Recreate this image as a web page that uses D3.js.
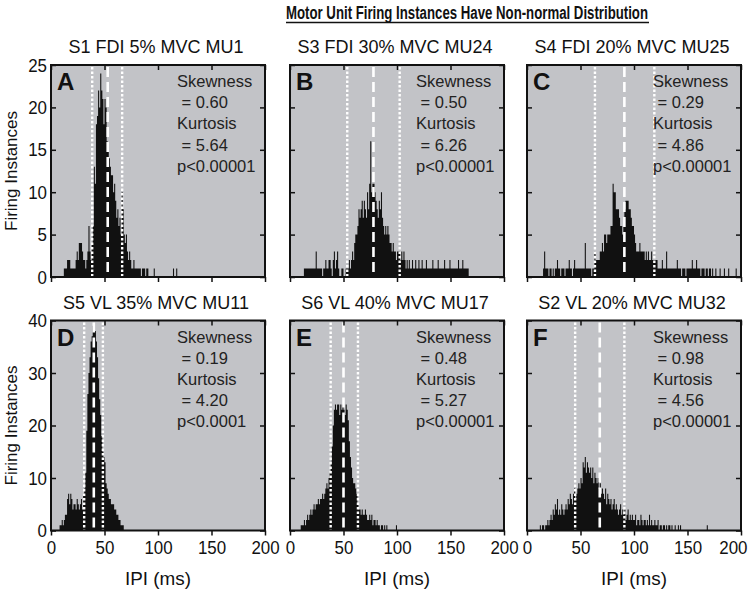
<!DOCTYPE html>
<html><head><meta charset="utf-8">
<script src="https://cdn.jsdelivr.net/npm/d3@7"></script>
<style>body{margin:0;background:#fff}svg{display:block}</style>
</head><body>
<svg id="chart" width="748" height="591"></svg>
<script>
// ---------------- data ----------------
const mainTitle = "Motor Unit Firing Instances Have Non-normal Distribution";
const panelTitles = ["S1 FDI 5% MVC MU1","S3 FDI 30% MVC MU24","S4 FDI 20% MVC MU25",
                     "S5 VL 35% MVC MU11","S6 VL 40% MVC MU17","S2 VL 20% MVC MU32"];
const panelLetters = ["A","B","C","D","E","F"];
const skewness = ["0.60","0.50","0.29","0.19","0.48","0.98"];
const kurtosis = ["5.64","6.26","4.86","4.20","5.27","4.56"];
const pValues = ["p<0.00001","p<0.00001","p<0.00001","p<0.0001","p<0.00001","p<0.00001"];
const xTicks = [0,50,100,150,200];
const yTicksTop = [0,5,10,15,20,25];
const yTicksBottom = [0,10,20,30,40];
const xLabel = "IPI (ms)";
const yLabel = "Firing Instances";
// white dashed (centre) and dotted (spread) reference lines, ms
const centerLine = [53,78,91,40,50,68];
const lowerLine  = [38.5,53.5,63.5,31,38,45];
const upperLine  = [66.5,102.5,119,48.5,63.5,91];
// histogram counts in 1-ms bins, starting at binStart ms
const binStart = [12,13,15,8,10,12];
const countsA = [1,1,1,2,2,2,1,1,1,1,1,2,3,2,4,4,4,3,2,2,1,2,3,6,3,2,4,6,13,11,18,19,22,20,24,22,21,18,21,20,16,15,14,13,12,12,10,11,9,7,8,6,7,5,10,8,5,4,5,3,2,3,2,1,1,2,1,1,1,1,1,1,0,1,1,1,0,1,1,0,0,0,0,0,1,0,0,0,0,0,0,0,0,0,0,0,0,0,0,0,0,0,1,0,0,1];
const countsB = [1,1,1,1,1,1,1,1,1,1,1,3,1,1,1,1,1,0,1,1,2,1,1,2,2,1,0,2,3,1,2,3,1,0,0,1,1,0,0,1,1,1,2,1,2,3,2,4,5,5,6,8,7,8,9,7,9,8,7,10,8,11,16,10,11,11,10,9,8,7,9,8,10,7,6,5,6,5,6,5,4,4,3,4,3,3,2,3,3,3,2,3,2,3,2,1,2,1,2,1,1,2,1,1,2,1,1,2,1,1,2,1,1,1,2,1,1,1,1,1,2,1,1,1,1,2,1,1,1,1,1,2,1,1,1,1,2,1,1,1,1,1,1,1,2,1,1,1,2,1,1,1,1,1];
const countsC = [1,3,1,1,1,0,1,1,0,1,0,1,1,2,1,1,0,1,1,1,0,1,1,1,2,1,1,0,1,2,1,1,1,1,1,1,1,1,1,4,1,1,1,1,1,0,1,1,3,2,2,2,2,3,3,4,3,5,5,4,5,5,5,6,6,11,10,10,8,8,8,7,6,6,5,6,8,9,9,9,8,8,7,6,6,5,4,3,3,3,4,3,3,3,3,2,3,2,3,2,2,3,2,2,2,2,2,1,1,1,1,2,1,1,1,3,1,1,1,1,1,1,1,1,1,2,1,1,1,0,1,1,1,0,1,1,1,1,1,2,1,1,1,2,1,1,1,0,1,1,1,0,1,1,0,1,1,0,1,0,0,1,0,0,0,1,0,0,0,1,0,0,0,1,0,0,0,0,0,0,1];
const countsD = [1,1,2,1,2,3,3,6,7,5,7,6,4,5,5,4,6,5,4,5,6,4,7,8,11,19,26,30,33,36,37,39,39,38,36,33,29,25,22,18,15,14,13,9,8,7,6,6,5,5,5,4,4,3,3,2,2,1,1,1];
const countsE = [1,1,1,2,1,2,3,2,3,4,3,4,5,4,5,5,6,5,6,6,7,6,7,8,9,8,10,11,13,16,20,23,24,23,24,24,22,24,23,24,23,22,24,23,21,17,14,12,10,9,9,8,7,5,4,4,3,4,3,3,4,3,2,2,3,2,3,1,2,2,1,2,1,1,0,1,1,0,1,0,1,0,0,0,0,0,0,0,0,1];
const countsF = [1,0,1,1,0,1,1,2,1,2,3,2,4,3,5,4,6,3,4,3,5,4,3,4,5,4,6,5,7,6,5,7,8,6,7,8,9,8,10,9,13,12,14,11,13,12,11,12,10,12,9,11,10,9,10,8,9,7,8,7,6,8,5,7,6,5,6,4,5,6,4,5,4,3,4,5,3,4,3,4,2,3,4,2,3,2,3,2,2,3,1,2,2,1,3,2,1,2,2,1,2,1,3,1,2,1,1,2,1,1,2,0,1,1,0,1,1,0,1,0,1,1,0,1,0,0,1,0,0,1,0,1,0,0,0,0,0,0,0,0,0,0,0,0,0,0,0,0,0,0,0,0,0,0,0,0,1];
const allCounts = [countsA,countsB,countsC,countsD,countsE,countsF];

// ---------------- layout ----------------
const svg = d3.select("#chart");
const colX = [51,290,527], panelW = 214;
const rows = [{top:65,bottom:277,yMax:25,ticks:yTicksTop},{top:320.5,bottom:530.5,yMax:40,ticks:yTicksBottom}];
const bg = "#c2c3c7";
const ink = "#111";
const sans = "'Liberation Sans', Arial, Helvetica, sans-serif";

// main title
svg.append("text").attr("x",467).attr("y",19).attr("text-anchor","middle")
  .attr("font-family",sans).attr("font-weight","bold").attr("font-size",18).attr("fill",ink)
  .attr("textLength",362).attr("lengthAdjust","spacingAndGlyphs").text(mainTitle);
svg.append("line").attr("x1",286).attr("x2",649).attr("y1",22.5).attr("y2",22.5).attr("stroke",ink).attr("stroke-width",1.4);

function squeeze(sel, perChar){
  sel.each(function(){
    const t = d3.select(this), s = t.text();
    if (s.length) t.attr("textLength", s.length*perChar).attr("lengthAdjust","spacingAndGlyphs");
  });
}

for (let p=0;p<6;p++){
  const r = rows[Math.floor(p/3)], c = p%3;
  const x0 = colX[c], x1 = x0+panelW;
  const x = d3.scaleLinear().domain([0,200]).range([x0,x1]);
  const y = d3.scaleLinear().domain([0,r.yMax]).range([r.bottom,r.top]);
  const g = svg.append("g");
  g.append("rect").attr("x",x0).attr("y",r.top).attr("width",panelW).attr("height",r.bottom-r.top).attr("fill",bg);
  const counts = allCounts[p];
  const pts = counts.map((v,i)=>({b:binStart[p]+i,v:v}));
  pts.push({b:binStart[p]+counts.length, v:0});
  const area = d3.area().curve(d3.curveStepAfter).x(d=>x(d.b)).y0(y(0)).y1(d=>y(d.v));
  g.append("path").datum(pts).attr("d",area).attr("fill",ink).attr("stroke","none");
  // reference lines
  [[lowerLine[p],"2.5,2",2.4],[upperLine[p],"2.5,2",2.4],[centerLine[p],"10,5",2.6]].forEach(([v,da,w])=>{
    g.append("line").attr("x1",x(v)).attr("x2",x(v)).attr("y1",r.top+2).attr("y2",r.bottom)
      .attr("stroke","#fff").attr("stroke-width",w).attr("stroke-dasharray",da);
  });
  // axes
  const axB = g.append("g").attr("transform",`translate(0,${r.bottom})`)
    .call(d3.axisBottom(x).tickValues(xTicks).tickSize(5).tickSizeOuter(0).tickPadding(5).tickFormat(p>=3?d3.format("d"):()=>""));
  const axT = g.append("g").attr("transform",`translate(0,${r.top})`)
    .call(d3.axisBottom(x).tickValues(xTicks).tickSize(5).tickSizeOuter(0).tickFormat(()=>""));
  const axL = g.append("g").attr("transform",`translate(${x0},0)`)
    .call(d3.axisRight(y).tickValues(r.ticks).tickSize(5).tickSizeOuter(0).tickFormat(()=>""));
  const axR = g.append("g").attr("transform",`translate(${x1},0)`)
    .call(d3.axisLeft(y).tickValues(r.ticks).tickSize(5).tickSizeOuter(0).tickFormat(()=>""));
  let axLab = null;
  if (c===0){
    axLab = g.append("g").attr("transform",`translate(${x0},0)`)
      .call(d3.axisLeft(y).tickValues(r.ticks).tickSize(0).tickPadding(4).tickFormat(d3.format("d")));
    axLab.select(".domain").remove();
  }
  [axB,axT,axL,axR].forEach(a=>{a.select(".domain").remove(); a.selectAll(".tick line").attr("stroke",ink).attr("stroke-width",1.5);});
  [axB,axLab].forEach(a=>{ if(!a) return;
    a.selectAll(".tick text").attr("font-family",sans).attr("font-size",19).attr("fill",ink);
    squeeze(a.selectAll(".tick text"),9.4);
  });
  if (c===2 && p>=3){
    // keep the last label inside the picture, as in the reference
    axB.selectAll(".tick text").filter(d=>d===200).attr("text-anchor","end").attr("x",6);
  }
  g.append("rect").attr("x",x0).attr("y",r.top).attr("width",panelW).attr("height",r.bottom-r.top)
    .attr("fill","none").attr("stroke",ink).attr("stroke-width",2);
  // panel title
  g.append("text").attr("x",(x0+x1)/2-2).attr("y",r.top-12).attr("text-anchor","middle")
    .attr("font-family",sans).attr("font-size",18).attr("fill",ink).text(panelTitles[p]);
  // letter
  g.append("text").attr("x",x0+6).attr("y",r.top+25).attr("font-family",sans).attr("font-weight","bold")
    .attr("font-size",24).attr("fill",ink).text(panelLetters[p]);
  // stats text
  const lines = ["Skewness"," = "+skewness[p],"Kurtosis"," = "+kurtosis[p],pValues[p]];
  lines.forEach((t,i)=>{
    g.append("text").attr("x",x0+126).attr("y",r.top+22+i*21.2).attr("font-family",sans)
      .attr("font-size",16.5).attr("fill","#222").style("white-space","pre").text(t);
  });
  if (p>=3){
    g.append("text").attr("x",(x0+x1)/2).attr("y",585).attr("text-anchor","middle")
      .attr("font-family",sans).attr("font-size",19).attr("fill",ink)
      .attr("textLength",66).attr("lengthAdjust","spacingAndGlyphs").text(xLabel);
  }
  if (c===0){
    g.append("text").attr("transform",`translate(17,${(r.top+r.bottom)/2}) rotate(-90)`).attr("text-anchor","middle")
      .attr("font-family",sans).attr("font-size",17).attr("fill",ink).text(yLabel);
  }
}
</script>
</body></html>
